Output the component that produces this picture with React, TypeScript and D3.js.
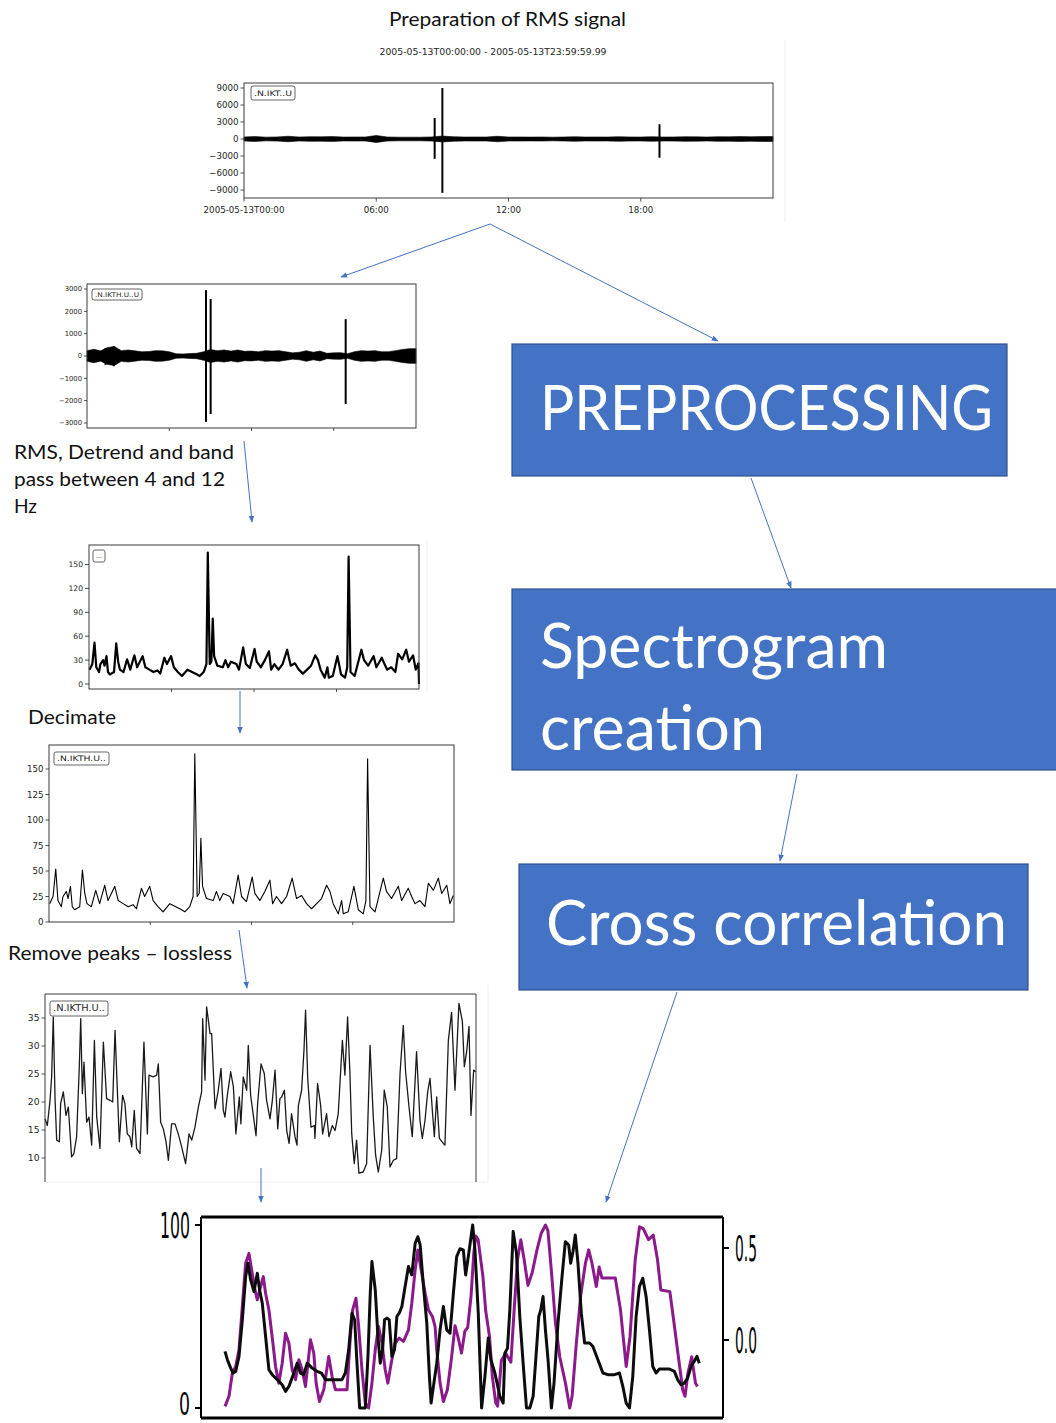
import React from "react";
import * as d3 from "d3";

const UI_FONT = "Lato, 'Open Sans', 'Liberation Sans', sans-serif";
const PLOT_FONT = "'DejaVu Sans', sans-serif";
const BLUE = "#4472C4";
const BLUE_EDGE = "#2F528F";
const AXIS = "#3a3a3a";
const LABEL = "#262626";

type Pt = [number, number];
type Spike = [number, number, number]; // hour, max, min

// shared time axis of the daily traces (hours)
const HOUR_TICKS = [0, 6, 12, 18];
const HOUR_LABELS = ["2005-05-13T00:00", "06:00", "12:00", "18:00"];
const ENVELOPE_HOURS = d3.range(0, 24.01, 0.5);

// raw trace: half-hourly noise envelope (counts) and the transient events
const RAW_TICKS = [-9000, -6000, -3000, 0, 3000, 6000, 9000];
const RAW_ENVELOPE = [
  360, 430, 330, 360, 480, 350, 400, 380, 430, 340, 360, 350, 620, 350, 320, 320, 320,
  360, 520, 400, 350, 360, 350, 480, 350, 360, 340, 360, 320, 350, 400, 350, 360, 350,
  400, 360, 350, 400, 350, 360, 400, 380, 350, 400, 380, 430, 390, 430, 430,
];
const RAW_SPIKES: Spike[] = [
  [8.65, 3700, -3500],
  [9.0, 9000, -9500],
  [18.85, 2600, -3300],
];

// band-passed trace
const FILT_TICKS = [-3000, -2000, -1000, 0, 1000, 2000, 3000];
const FILT_ENVELOPE = [
  240, 300, 230, 380, 420, 240, 270, 230, 190, 200, 240, 230, 190, 100, 90, 110, 120,
  190, 290, 240, 270, 220, 270, 210, 220, 190, 240, 220, 240, 190, 140, 170, 240, 170,
  220, 120, 140, 150, 100, 190, 240, 220, 240, 190, 190, 240, 290, 330, 330,
];
const FILT_SPIKES: Spike[] = [
  [1.35, 350, -400],
  [1.95, 430, -460],
  [8.68, 2950, -2950],
  [9.02, 2550, -2600],
  [18.87, 1650, -2150],
];

// RMS amplitude
const RMS_TICKS_A = [0, 30, 60, 90, 120, 150];
const RMS_TICKS_B = [0, 25, 50, 75, 100, 125, 150];
const RMS_SERIES: Pt[] = [
  [0.04, 18], [0.24, 25], [0.4, 52], [0.53, 21], [0.73, 15], [0.83, 25], [1.03, 30],
  [1.13, 23], [1.27, 35], [1.38, 15], [1.52, 12], [1.82, 15], [1.98, 51], [2.12, 28],
  [2.25, 18], [2.51, 15], [2.77, 31], [3.0, 18], [3.3, 36], [3.5, 21], [3.9, 35],
  [4.1, 21], [4.39, 18], [4.69, 15], [4.98, 17], [5.18, 13], [5.48, 33], [5.67, 25],
  [5.97, 35], [6.17, 21], [6.46, 15], [6.76, 10], [7.16, 18], [7.75, 13], [8.05, 10],
  [8.34, 15], [8.54, 25], [8.64, 165], [8.78, 25], [8.9, 28], [9.0, 82], [9.1, 35],
  [9.33, 23], [9.73, 21], [9.92, 30], [10.12, 21], [10.32, 28], [10.72, 25], [10.91, 18],
  [11.21, 46], [11.41, 25], [11.7, 20], [12.04, 44], [12.2, 28], [12.5, 21], [12.79, 30],
  [13.09, 41], [13.25, 18], [13.48, 25], [13.78, 18], [14.08, 25], [14.41, 43], [14.67, 23],
  [14.97, 26], [15.26, 18], [15.56, 13], [15.86, 18], [16.15, 23], [16.45, 36], [16.65, 30],
  [16.84, 18], [17.14, 8], [17.34, 21], [17.44, 8], [17.73, 10], [18.07, 35], [18.33, 12],
  [18.62, 8], [18.78, 21], [18.88, 160], [19.02, 15], [19.32, 10], [19.81, 43], [20.0, 30],
  [20.3, 23], [20.7, 35], [20.9, 21], [21.29, 33], [21.49, 25], [21.69, 18], [21.98, 21],
  [22.28, 15], [22.48, 38], [22.78, 31], [23.07, 43], [23.27, 28], [23.57, 36], [23.76, 18],
  [23.96, 26],
];
// the filtered RMS drops to zero at the very last sample
const RMS_EDGE: Pt = [24, 0];

// RMS after peak removal
const CLIP_TICKS = [10, 15, 20, 25, 30, 35];
const CLIP_SERIES: Pt[] = [
  [0.0, 17.0], [0.13, 15.8], [0.28, 20.3], [0.37, 24.5], [0.46, 35.2], [0.56, 20.6],
  [0.65, 13.2], [0.8, 12.9], [0.87, 19.7], [1.02, 21.8], [1.17, 17.6], [1.3, 19.1],
  [1.48, 10.2], [1.61, 10.8], [1.76, 13.8], [1.91, 26.3], [1.99, 34.9], [2.08, 21.5],
  [2.17, 27.1], [2.32, 16.4], [2.45, 17.3], [2.6, 12.3], [2.75, 31.0], [2.88, 17.3],
  [3.06, 11.7], [3.25, 30.7], [3.43, 20.6], [3.62, 20.3], [3.77, 20.0], [3.9, 32.8],
  [4.14, 12.9], [4.32, 21.2], [4.45, 19.7], [4.58, 14.3], [4.73, 13.8], [4.83, 12.0],
  [4.97, 18.5], [5.1, 11.7], [5.29, 10.8], [5.51, 30.7], [5.7, 14.3], [5.79, 24.8],
  [6.03, 24.5], [6.22, 24.8], [6.31, 26.8], [6.44, 16.4], [6.59, 15.2], [6.74, 12.9],
  [6.87, 9.6], [7.05, 16.1], [7.24, 16.1], [7.42, 14.3], [7.61, 12.0], [7.83, 9.0],
  [8.02, 14.3], [8.17, 13.2], [8.35, 15.5], [8.54, 19.1], [8.72, 21.8], [8.78, 34.9],
  [8.91, 23.9], [9.0, 37.0], [9.19, 32.2], [9.28, 32.2], [9.47, 18.8], [9.65, 22.1],
  [9.8, 26.0], [9.93, 18.5], [10.02, 17.3], [10.15, 21.1], [10.34, 25.4], [10.49, 22.7],
  [10.63, 14.3], [10.82, 20.9], [10.91, 16.1], [11.04, 24.5], [11.23, 22.1], [11.32, 30.1],
  [11.45, 21.2], [11.6, 17.6], [11.75, 14.0], [11.84, 19.7], [12.03, 26.8], [12.21, 25.1],
  [12.34, 20.3], [12.53, 17.0], [12.66, 20.3], [12.81, 25.7], [12.96, 15.2], [13.08, 20.6],
  [13.18, 20.9], [13.33, 22.1], [13.46, 14.9], [13.59, 12.6], [13.73, 17.9], [13.92, 13.8],
  [14.03, 12.3], [14.11, 19.4], [14.29, 22.1], [14.42, 29.2], [14.51, 36.4], [14.63, 24.2],
  [14.81, 15.5], [15.0, 15.8], [15.03, 13.5], [15.18, 23.3], [15.35, 19.4], [15.46, 14.3],
  [15.68, 17.9], [15.81, 13.8], [16.0, 15.8], [16.15, 14.9], [16.33, 17.9], [16.56, 31.0],
  [16.7, 24.8], [16.85, 35.2], [16.98, 25.1], [17.08, 14.3], [17.22, 9.0], [17.35, 13.2],
  [17.48, 7.3], [17.72, 7.5], [17.91, 9.0], [18.1, 30.1], [18.28, 17.3], [18.41, 10.5],
  [18.56, 7.5], [18.75, 11.4], [18.89, 22.1], [19.06, 19.1], [19.21, 8.4], [19.4, 9.6],
  [19.58, 9.9], [19.77, 25.1], [19.95, 33.7], [20.08, 25.4], [20.27, 19.1], [20.45, 13.8],
  [20.69, 29.0], [20.88, 16.7], [21.01, 13.5], [21.16, 16.7], [21.31, 21.8], [21.44, 24.2],
  [21.59, 17.6], [21.68, 13.8], [21.81, 20.9], [21.96, 13.5], [22.18, 12.6], [22.27, 12.3],
  [22.46, 31.0], [22.64, 36.0], [22.83, 22.1], [23.05, 37.6], [23.24, 34.4], [23.35, 26.3],
  [23.48, 29.0], [23.61, 33.5], [23.72, 17.6], [23.87, 25.7], [23.98, 25.4],
];

// cross-correlation panel: two normalised series over a common window
const CORR_LEFT_TICKS = [0, 100];
const CORR_RIGHT_TICKS = [0.0, 0.5];
const CORR_BLACK: Pt[] = [
  [0.06, 30.9], [0.56, 26.4], [1.26, 21.8], [1.75, 19.1], [2.31, 20.0], [3.01, 28.2],
  [3.71, 48.2], [4.41, 71.8], [4.9, 79.1], [5.46, 70.0], [6.16, 63.6], [6.86, 73.6],
  [7.35, 64.5], [7.91, 57.3], [8.61, 39.1], [9.31, 20.9], [10.01, 18.2], [11.06, 15.5],
  [12.11, 12.7], [12.82, 9.1], [13.52, 11.8], [14.57, 19.1], [15.27, 24.5], [15.97, 19.1],
  [16.67, 18.2], [17.37, 24.5], [18.42, 21.8], [19.47, 20.0], [20.38, 19.1], [21.22, 15.5],
  [21.92, 15.5], [23.32, 15.5], [24.72, 15.5], [25.42, 19.1], [26.12, 31.8], [26.82, 51.8],
  [27.38, 48.2], [27.87, 24.5], [28.43, 0], [29.62, 0], [30.18, 28.2], [30.67, 62.7],
  [31.02, 80.0], [31.72, 64.5], [32.28, 39.1], [32.77, 24.5], [33.26, 31.8], [33.68, 48.2],
  [34.17, 49.1], [34.66, 48.2], [35.22, 28.2], [35.78, 31.8], [36.27, 50.0], [36.76, 51.8],
  [37.33, 55.5], [37.89, 64.5], [38.72, 77.3], [39.42, 72.7], [40.13, 90.0], [40.69, 93.6],
  [41.18, 89.1], [41.88, 66.4], [42.58, 46.4], [43.13, 17.3], [43.49, 2.7], [43.98, 11.8],
  [44.68, 24.5], [45.38, 42.7], [46.08, 55.5], [46.78, 42.7], [47.48, 40.9], [48.18, 62.7],
  [48.88, 82.7], [49.58, 87.0], [50.28, 86.4], [50.77, 72.7], [51.33, 82.7], [52.25, 100],
  [52.73, 86.4], [53.43, 51.8], [54.13, 0], [54.83, 17.3], [55.53, 38.2], [56.09, 26.4],
  [56.93, 19.1], [57.98, 6.4], [58.68, 2.7], [59.03, 30.0], [59.59, 32.7], [60.08, 53.6],
  [60.78, 96.4], [61.48, 84.5], [62.18, 50.0], [62.88, 24.5], [63.59, 0], [64.29, 0],
  [64.99, 6.4], [65.69, 31.8], [66.18, 50.0], [66.6, 53.6], [67.08, 60.9], [67.58, 42.7],
  [68.13, 26.4], [68.84, 0], [69.39, 13.6], [70.23, 46.4], [71.08, 71.8], [71.78, 90.9],
  [72.48, 89.1], [72.9, 79.1], [73.39, 85.5], [73.88, 94.5], [74.44, 79.1], [75.14, 51.8],
  [75.84, 35.5], [76.89, 35.5], [77.59, 33.6], [78.64, 26.4], [79.69, 19.1], [80.74, 18.2],
  [82.14, 18.2], [83.19, 19.1], [83.89, 11.8], [84.59, 2.7], [85.29, 0], [85.99, 17.3],
  [86.69, 50.0], [87.39, 66.4], [88.09, 70.9], [88.8, 60.9], [89.5, 42.7], [90.2, 22.7],
  [90.9, 19.1], [91.6, 21.3], [92.65, 21.3], [93.7, 21.3], [94.75, 20.0], [95.45, 15.5],
  [96.15, 12.7], [96.85, 13.6], [97.55, 16.4], [98.39, 23.6], [98.95, 25.5], [99.51, 28.2],
  [100, 24.5],
];
const CORR_PURPLE: Pt[] = [
  [0.06, 0.9], [0.9, 6.4], [1.61, 19.1], [2.31, 22.7], [3.01, 31.8], [3.71, 55.5],
  [4.41, 79.1], [5.11, 84.5], [5.67, 75.5], [6.37, 64.5], [6.86, 59.1], [7.56, 66.4],
  [8.13, 71.8], [8.61, 62.7], [9.31, 53.6], [10.15, 35.5], [10.71, 22.7], [11.41, 13.6],
  [12.11, 24.5], [12.82, 40.9], [13.52, 35.5], [14.22, 20.9], [14.92, 15.5], [15.62, 26.4],
  [16.32, 20.9], [17.02, 11.8], [18.07, 37.3], [18.77, 30.0], [19.26, 13.6], [19.96, 3.6],
  [20.87, 10.0], [21.92, 28.2], [22.62, 17.3], [23.32, 10.0], [24.72, 10.0], [25.77, 10.0],
  [26.47, 39.1], [26.96, 53.6], [27.66, 60.0], [28.22, 44.5], [28.92, 20.9], [29.62, 2.7],
  [30.32, 0], [31.02, 13.6], [31.72, 31.8], [32.42, 44.5], [33.12, 35.5], [33.82, 20.9],
  [34.38, 13.6], [35.08, 24.5], [35.92, 35.5], [36.76, 38.2], [37.67, 36.4], [38.72, 42.7],
  [39.42, 57.3], [40.13, 75.5], [40.69, 86.4], [41.39, 75.5], [42.23, 62.7], [42.93, 53.6],
  [43.77, 50.0], [44.33, 44.5], [44.68, 31.8], [45.38, 13.6], [46.08, 3.6], [46.92, 10.0],
  [47.83, 28.2], [48.53, 45.0], [49.23, 38.0], [49.9, 30.0], [50.6, 42.0], [51.2, 44.0],
  [51.9, 61.0], [52.5, 85.0], [52.9, 94.0], [53.4, 92.0], [54.4, 72.0], [55.0, 53.0],
  [55.8, 39.0], [56.4, 17.0], [57.1, 3.0], [57.5, 1.0], [58.3, 26.0], [59.2, 30.0],
  [60.3, 25.0], [61.0, 54.0], [61.7, 81.0], [62.4, 92.0], [63.1, 81.0], [63.9, 67.0],
  [64.8, 74.0], [65.8, 86.4], [66.7, 95.5], [67.6, 100], [68.1, 97.0], [68.8, 76.0],
  [69.7, 46.4], [70.6, 28.0], [71.8, 13.6], [72.7, 0], [73.2, 6.4], [74.1, 35.5],
  [75.0, 61.0], [76.0, 79.0], [76.7, 86.4], [77.4, 79.0], [78.3, 66.4], [78.9, 77.0],
  [79.5, 71.0], [80.5, 71.0], [82.3, 71.0], [83.4, 53.6], [84.1, 35.5], [84.6, 22.7],
  [85.4, 39.0], [86.5, 81.0], [87.4, 99.0], [88.2, 98.0], [89.3, 92.0], [90.3, 94.5],
  [91.2, 81.0], [91.9, 64.5], [93.8, 63.6], [94.5, 50.0], [95.6, 28.0], [96.5, 10.0],
  [97.0, 6.4], [97.6, 19.0], [98.4, 28.0], [99.2, 13.6], [99.6, 11.8],
];

const intFmt = d3.format("d");
const oneDec = d3.format(".1f");

type Scale = d3.ScaleLinear<number, number>;

function YTicks({ scale, ticks, x, fontSize, fmt = intFmt, len = 3.5 }: {
  scale: Scale; ticks: number[]; x: number; fontSize: number; fmt?: (v: number) => string; len?: number;
}) {
  return (
    <g>
      {ticks.map((t) => (
        <g key={t}>
          <line x1={x - len} x2={x} y1={scale(t)} y2={scale(t)} stroke={AXIS} strokeWidth={0.9} />
          <text x={x - len - 2} y={scale(t)} dy="0.36em" textAnchor="end" fontSize={fontSize}
            fontFamily={PLOT_FONT} fill={LABEL}>{fmt(t)}</text>
        </g>
      ))}
    </g>
  );
}

function XTicks({ scale, ticks, y, labels, fontSize = 8.7, len = 3.5, gap = 2 }: {
  scale: Scale; ticks: number[]; y: number; labels?: string[]; fontSize?: number; len?: number; gap?: number;
}) {
  return (
    <g>
      {ticks.map((t, i) => (
        <g key={t}>
          <line x1={scale(t)} x2={scale(t)} y1={y} y2={y + len} stroke={AXIS} strokeWidth={0.9} />
          {labels && (
            <text x={scale(t)} y={y + len + gap} dy="0.75em" textAnchor="middle" fontSize={fontSize}
              fontFamily={PLOT_FONT} fill={LABEL}>{labels[i]}</text>
          )}
        </g>
      ))}
    </g>
  );
}

function Legend({ x, y, w, h, label, fontSize }: { x: number; y: number; w: number; h: number; label: string; fontSize: number }) {
  return (
    <g>
      <rect x={x} y={y} width={w} height={h} rx={2} fill="#fff" stroke="#555" strokeWidth={0.9} />
      <text x={x + 3} y={y + h / 2} dy="0.36em" fontSize={fontSize} fontFamily={PLOT_FONT} fill={LABEL}
        textLength={w - 6} lengthAdjust="spacingAndGlyphs">{label}</text>
    </g>
  );
}

function Trace({ left, right, top, bottom }: { left: number; right: number; top: number; bottom: number }) {
  return <rect x={left} y={top} width={right - left} height={bottom - top} fill="none" stroke={AXIS} strokeWidth={1} />;
}

function envelopePath(x: Scale, y: Scale, env: number[]) {
  return d3.area<number>()
    .x((_, i) => x(ENVELOPE_HOURS[i]))
    .y0((a) => y(-a))
    .y1((a) => y(a))(env) ?? "";
}

function seriesPath(x: Scale, y: Scale, pts: Pt[]) {
  return d3.line<Pt>().x((d) => x(d[0])).y((d) => y(d[1]))(pts) ?? "";
}

function Arrow({ from, to }: { from: Pt; to: Pt }) {
  return <line x1={from[0]} y1={from[1]} x2={to[0]} y2={to[1]} stroke={BLUE} strokeWidth={1} markerEnd="url(#arrowHead)" />;
}

function Block({ x, y, w, h }: { x: number; y: number; w: number; h: number }) {
  return <rect x={x} y={y} width={w} height={h} fill={BLUE} stroke={BLUE_EDGE} strokeWidth={1.2} />;
}

export default function App() {
  // raw trace
  const xRaw = d3.scaleLinear().domain([0, 24]).range([244, 773]);
  const yRaw = d3.scaleLinear().domain([-9000, 9000]).range([190, 88]);
  // filtered trace
  const xFilt = d3.scaleLinear().domain([0, 24]).range([87, 416]);
  const yFilt = d3.scaleLinear().domain([-3000, 3000]).range([423, 289]);
  // RMS, detrended
  const xRmsA = d3.scaleLinear().domain([0, 24]).range([89, 419]);
  const yRmsA = d3.scaleLinear().domain([0, 150]).range([684, 564.5]);
  // decimated
  const xRmsB = d3.scaleLinear().domain([0, 24]).range([49, 454]);
  const yRmsB = d3.scaleLinear().domain([0, 150]).range([922, 769]);
  // peaks removed
  const xClip = d3.scaleLinear().domain([0, 24]).range([45, 476]);
  const yClip = d3.scaleLinear().domain([10, 35]).range([1158, 1018]);
  // correlation panel
  const xCorr = d3.scaleLinear().domain([-5, 105]).range([201, 723]);
  const yCorr = d3.scaleLinear().domain([0, 100]).range([1408, 1225]);
  const yCorrR = d3.scaleLinear().domain([0, 0.5]).range([1340, 1248]);

  const bigText = { fontFamily: UI_FONT, fill: "#fff", fontSize: 61 } as const;
  const noteText = { fontFamily: UI_FONT, fill: "#111", fontSize: 19.5 } as const;

  return (
    <svg width={1056} height={1423} viewBox="0 0 1056 1423"
      style={{ position: "absolute", left: 0, top: 0, background: "#fff" }}>
      <defs>
        <marker id="arrowHead" viewBox="0 0 10 10" refX={9} refY={5} markerWidth={7} markerHeight={7}
          markerUnits="userSpaceOnUse" orient="auto">
          <path d="M0,1 L10,5 L0,9 z" fill={BLUE} />
        </marker>
      </defs>

      {/* title */}
      <text x={389} y={26} {...noteText} fontSize={19.5} textLength={237} lengthAdjust="spacingAndGlyphs">
        Preparation of RMS signal
      </text>

      {/* raw trace panel */}
      <line x1={785} x2={785} y1={40} y2={222} stroke="#eeeeee" />
      <text x={493} y={55} textAnchor="middle" fontSize={8.7} fontFamily={PLOT_FONT} fill={LABEL}
        textLength={227} lengthAdjust="spacingAndGlyphs">
        2005-05-13T00:00:00  -  2005-05-13T23:59:59.99
      </text>
      <path d={envelopePath(xRaw, yRaw, RAW_ENVELOPE)} fill="#000" stroke="#000" strokeWidth={0.6} />
      {RAW_SPIKES.map((s) => (
        <line key={s[0]} x1={xRaw(s[0])} x2={xRaw(s[0])} y1={yRaw(s[1])} y2={yRaw(s[2])} stroke="#000" strokeWidth={2} />
      ))}
      <Trace left={244} right={773} top={83} bottom={198} />
      <YTicks scale={yRaw} ticks={RAW_TICKS} x={244} fontSize={8.7} />
      <XTicks scale={xRaw} ticks={HOUR_TICKS} y={198} labels={HOUR_LABELS} gap={5} />
      <Legend x={251} y={86} w={44} h={14} label=".N.IKT..U" fontSize={7.5} />

      {/* filtered trace panel */}
      <path d={envelopePath(xFilt, yFilt, FILT_ENVELOPE)} fill="#000" stroke="#000" strokeWidth={0.6} />
      {FILT_SPIKES.map((s) => (
        <line key={s[0]} x1={xFilt(s[0])} x2={xFilt(s[0])} y1={yFilt(s[1])} y2={yFilt(s[2])} stroke="#000" strokeWidth={2} />
      ))}
      <Trace left={87} right={416} top={284} bottom={428} />
      <YTicks scale={yFilt} ticks={FILT_TICKS} x={87} fontSize={6.8} len={3} />
      <XTicks scale={xFilt} ticks={HOUR_TICKS.slice(1)} y={428} len={3} />
      <Legend x={92} y={289} w={50} h={11} label=".N.IKTH.U..U" fontSize={6.5} />

      {/* RMS panel */}
      <line x1={427} x2={427} y1={540} y2={692} stroke="#eeeeee" />
      <path d={seriesPath(xRmsA, yRmsA, [...RMS_SERIES, RMS_EDGE])} fill="none" stroke="#000" strokeWidth={2.2}
        strokeLinejoin="round" />
      <Trace left={89} right={419} top={545} bottom={689} />
      <YTicks scale={yRmsA} ticks={RMS_TICKS_A} x={89} fontSize={7.6} len={4} />
      <XTicks scale={xRmsA} ticks={HOUR_TICKS.slice(1)} y={689} len={3} />
      <Legend x={93} y={550} w={12} h={12} label="..." fontSize={6} />

      {/* decimated panel */}
      <path d={seriesPath(xRmsB, yRmsB, RMS_SERIES)} fill="none" stroke="#000" strokeWidth={1.1} strokeLinejoin="round" />
      <Trace left={49} right={454} top={745} bottom={922} />
      <YTicks scale={yRmsB} ticks={RMS_TICKS_B} x={49} fontSize={8.7} />
      <XTicks scale={xRmsB} ticks={HOUR_TICKS.slice(1)} y={922} len={3} />
      <Legend x={54} y={752} w={55} h={13} label=".N.IKTH.U.." fontSize={7.5} />

      {/* peak-removed panel */}
      <line x1={488} x2={488} y1={985} y2={1182} stroke="#eeeeee" />
      <line x1={45} x2={488} y1={1182} y2={1182} stroke="#eeeeee" />
      <path d={seriesPath(xClip, yClip, CLIP_SERIES)} fill="none" stroke="#1a1a1a" strokeWidth={1.3} strokeLinejoin="round" />
      <line x1={45} x2={476} y1={994} y2={994} stroke={AXIS} />
      <line x1={45} x2={45} y1={994} y2={1182} stroke={AXIS} />
      <line x1={476} x2={476} y1={994} y2={1182} stroke={AXIS} />
      <YTicks scale={yClip} ticks={CLIP_TICKS} x={45} fontSize={9.2} />
      <Legend x={50} y={1001} w={58} h={15} label=".N.IKTH.U.." fontSize={8} />

      {/* correlation panel */}
      <path d={seriesPath(xCorr, yCorr, CORR_PURPLE)} fill="none" stroke="#8B1A8B" strokeWidth={3} strokeLinejoin="round" />
      <path d={seriesPath(xCorr, yCorr, CORR_BLACK)} fill="none" stroke="#0d0d0d" strokeWidth={3} strokeLinejoin="round" />
      <line x1={201} x2={723} y1={1217} y2={1217} stroke="#000" strokeWidth={3} />
      <line x1={201} x2={723} y1={1418} y2={1418} stroke="#000" strokeWidth={3} />
      <line x1={201} x2={201} y1={1217} y2={1418} stroke="#000" strokeWidth={2} />
      <line x1={723} x2={723} y1={1217} y2={1418} stroke="#000" strokeWidth={2} />
      {CORR_LEFT_TICKS.map((t) => (
        <g key={t}>
          <line x1={195} x2={201} y1={yCorr(t)} y2={yCorr(t)} stroke="#000" strokeWidth={2} />
          <text x={190} y={t === 0 ? 1415 : yCorr(t)} dy={t === 0 ? 0 : "0.36em"} textAnchor="end"
            fontSize={t === 0 ? 32 : 36} fontFamily={PLOT_FONT} fill="#000"
            textLength={t === 100 ? 30 : 11} lengthAdjust="spacingAndGlyphs">{intFmt(t)}</text>
        </g>
      ))}
      {CORR_RIGHT_TICKS.map((t) => (
        <g key={t}>
          <line x1={723} x2={729} y1={yCorrR(t)} y2={yCorrR(t)} stroke="#000" strokeWidth={2} />
          <text x={735} y={yCorrR(t)} dy="0.36em" fontSize={36} fontFamily={PLOT_FONT} fill="#000"
            textLength={22} lengthAdjust="spacingAndGlyphs">{oneDec(t)}</text>
        </g>
      ))}

      {/* processing steps */}
      <text x={14} y={459} {...noteText} textLength={220} lengthAdjust="spacingAndGlyphs">RMS, Detrend and band</text>
      <text x={14} y={486} {...noteText} textLength={211} lengthAdjust="spacingAndGlyphs">pass between 4 and 12</text>
      <text x={14} y={513} {...noteText} textLength={23} lengthAdjust="spacingAndGlyphs">Hz</text>
      <text x={28} y={724} {...noteText} textLength={88} lengthAdjust="spacingAndGlyphs">Decimate</text>
      <text x={8} y={960} {...noteText} textLength={224} lengthAdjust="spacingAndGlyphs">Remove peaks – lossless</text>

      {/* workflow blocks */}
      <Block x={512} y={344} w={495} h={132} />
      <text x={540} y={430} {...bigText} textLength={453} lengthAdjust="spacingAndGlyphs">PREPROCESSING</text>
      <Block x={512} y={589} w={550} h={181} />
      <text x={540} y={668} {...bigText} textLength={348} lengthAdjust="spacingAndGlyphs">Spectrogram</text>
      <text x={540} y={750} {...bigText} textLength={225} lengthAdjust="spacingAndGlyphs">creation</text>
      <Block x={519} y={864} w={509} h={126} />
      <text x={546} y={945} {...bigText} textLength={461} lengthAdjust="spacingAndGlyphs">Cross correlation</text>

      {/* connectors */}
      <Arrow from={[490, 224]} to={[341, 277]} />
      <Arrow from={[490, 224]} to={[718, 341]} />
      <Arrow from={[244, 441]} to={[252, 522]} />
      <Arrow from={[751, 478]} to={[791, 588]} />
      <Arrow from={[240, 691]} to={[240, 733]} />
      <Arrow from={[797, 774]} to={[780, 861]} />
      <Arrow from={[239, 930]} to={[247, 988]} />
      <Arrow from={[677, 992]} to={[606, 1202]} />
      <Arrow from={[261, 1168]} to={[261, 1202]} />
    </svg>
  );
}
